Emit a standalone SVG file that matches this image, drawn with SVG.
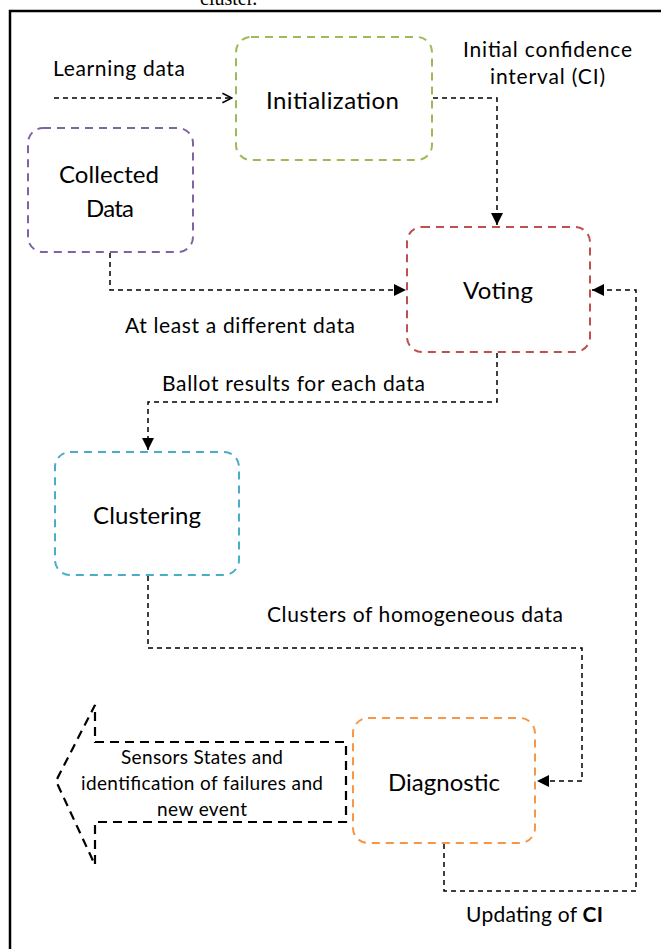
<svg xmlns="http://www.w3.org/2000/svg" width="661" height="949" viewBox="0 0 661 949">
  <style>
    .box { fill: none; stroke-width: 2; stroke-dasharray: 8 6; }
    .conn { fill: none; stroke: #000; stroke-width: 1.5; stroke-dasharray: 5 4; }
    .big { fill: none; stroke: #000; stroke-width: 2.2; stroke-dasharray: 9 6; }
    .lbl { font-family: Lato, "Open Sans", sans-serif; fill: #000; }
    .node { font-size: 24px; text-anchor: middle; }
    .edge { font-size: 21px; }
  </style>
  <defs>
    <marker id="tri" viewBox="0 0 10 10" refX="10" refY="5" markerWidth="12" markerHeight="12" markerUnits="userSpaceOnUse" orient="auto">
      <path d="M0,0 L10,5 L0,10 z" fill="#000"/>
    </marker>
    <marker id="open" viewBox="0 0 10 10" refX="9" refY="5" markerWidth="12" markerHeight="14" markerUnits="userSpaceOnUse" orient="auto">
      <path d="M1,1 L9,5 L1,9" fill="none" stroke="#000" stroke-width="1.3"/>
    </marker>
  </defs>

  <rect width="661" height="949" fill="#fff"/>

  <!-- page caption fragment and frame -->
  <text x="200" y="5" font-family="Liberation Serif, serif" font-size="20" fill="#000">cluster.</text>
  <path d="M10,949 V11 H661" fill="none" stroke="#000" stroke-width="2.5"/>

  <!-- connectors -->
  <g id="connectors">
    <path class="conn" d="M54,98 H232" marker-end="url(#open)"/>
    <path class="conn" d="M433,98 H497 V225" marker-end="url(#tri)"/>
    <path class="conn" d="M110,253 V290 H406" marker-end="url(#tri)"/>
    <path class="conn" d="M497,353 V402 H148 V450" marker-end="url(#tri)"/>
    <path class="conn" d="M148,576 V648 H582 V781 H537" marker-end="url(#tri)"/>
    <path class="conn" d="M444,844 V891 H636 V290 H592" marker-end="url(#tri)"/>
    <path class="big" d="M95,742 H346 V822 H95 V865 L56,781 L95,705 Z"/>
  </g>

  <!-- edge labels -->
  <g id="labels" class="lbl edge">
    <text x="53" y="76" textLength="132">Learning data</text>
    <text x="463" y="57" textLength="169">Initial confidence</text>
    <text x="490" y="84" textLength="115">interval (CI)</text>
    <text x="125" y="333" textLength="230">At least a different data</text>
    <text x="162" y="391" textLength="263">Ballot results for each data</text>
    <text x="267" y="622" textLength="296">Clusters of homogeneous data</text>
    <text x="466" y="922" textLength="137">Updating of <tspan font-weight="bold">CI</tspan></text>
    <g font-size="19">
      <text x="121" y="764" textLength="162">Sensors States and</text>
      <text x="81" y="790" textLength="242">identification of failures and</text>
      <text x="157" y="816" textLength="90">new event</text>
    </g>
  </g>

  <!-- nodes -->
  <g id="initialization">
    <rect class="box" x="236" y="37" width="196" height="123" rx="15" stroke="#9BBB59"/>
    <text class="lbl node" x="332.5" y="109" textLength="133">Initialization</text>
  </g>
  <g id="collected-data">
    <rect class="box" x="28" y="128" width="165" height="124" rx="15" stroke="#8064A2"/>
    <text class="lbl node" x="109" y="183" textLength="100">Collected</text>
    <text class="lbl node" x="110" y="217" textLength="48">Data</text>
  </g>
  <g id="voting">
    <rect class="box" x="407" y="227" width="183" height="125" rx="15" stroke="#C0504D"/>
    <text class="lbl node" x="498" y="299" textLength="70">Voting</text>
  </g>
  <g id="clustering">
    <rect class="box" x="55" y="452" width="184" height="123" rx="15" stroke="#4BACC6"/>
    <text class="lbl node" x="147" y="524" textLength="108">Clustering</text>
  </g>
  <g id="diagnostic">
    <rect class="box" x="353" y="718" width="182" height="125" rx="15" stroke="#F79646"/>
    <text class="lbl node" x="444" y="791" textLength="112">Diagnostic</text>
  </g>
</svg>
